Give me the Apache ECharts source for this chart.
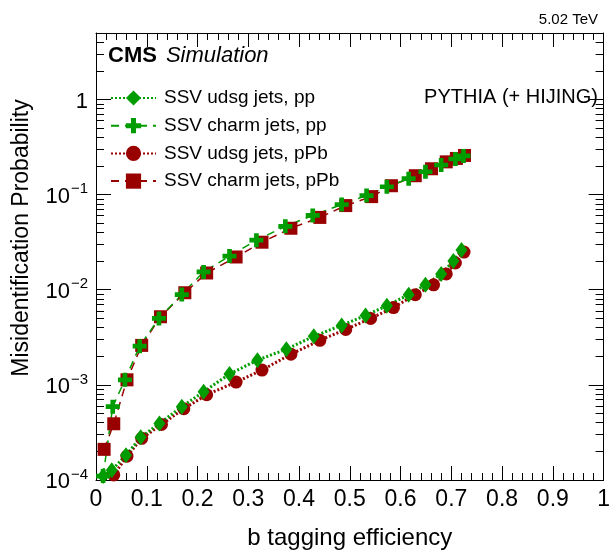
<!DOCTYPE html>
<html>
<head>
<meta charset="utf-8">
<script src="https://cdn.jsdelivr.net/npm/echarts@6/dist/echarts.min.js"></script>
<style>
html,body{margin:0;padding:0;background:#fff;}
#chart{width:613px;height:555px;}
</style>
</head>
<body>
<div id="chart"></div>
<script>
// ---- data ----
const udsgPPx   = [0.014,0.031,0.059,0.088,0.125,0.169,0.212,0.263,0.318,0.375,0.429,0.484,0.531,0.573,0.616,0.649,0.680,0.704,0.720];
const udsgPPy   = [1.10e-4,1.27e-4,1.82e-4,2.81e-4,3.93e-4,5.9e-4,8.46e-4,1.30e-3,1.82e-3,2.37e-3,3.24e-3,4.22e-3,5.36e-3,6.8e-3,8.87e-3,1.127e-2,1.468e-2,2.005e-2,2.61e-2];
const charmPPx  = [0.014,0.033,0.057,0.086,0.124,0.169,0.212,0.263,0.316,0.373,0.427,0.484,0.533,0.573,0.616,0.649,0.680,0.708,0.724];
const charmPPy  = [1.10e-4,5.9e-4,1.13e-3,2.55e-3,5.0e-3,8.9e-3,1.54e-2,2.26e-2,3.32e-2,4.64e-2,6.04e-2,7.87e-2,9.77e-2,0.121,0.147,0.174,0.205,0.237,0.255];
const udsgPbx   = [0.035,0.061,0.090,0.129,0.173,0.218,0.276,0.327,0.384,0.441,0.492,0.541,0.586,0.629,0.665,0.690,0.708,0.725];
const udsgPby   = [1.13e-4,1.78e-4,2.74e-4,3.83e-4,5.62e-4,7.87e-4,1.07e-3,1.43e-3,2.10e-3,2.94e-3,3.83e-3,4.99e-3,6.49e-3,8.87e-3,1.127e-2,1.468e-2,1.91e-2,2.49e-2];
const charmPbx  = [0.016,0.035,0.061,0.090,0.127,0.175,0.218,0.276,0.327,0.384,0.441,0.492,0.543,0.582,0.629,0.661,0.690,0.710,0.726];
const charmPby  = [2.1e-4,3.9e-4,1.13e-3,2.6e-3,5.2e-3,9.3e-3,1.50e-2,2.21e-2,3.16e-2,4.43e-2,5.76e-2,7.67e-2,9.53e-2,0.124,0.158,0.187,0.221,0.240,0.258];
const seriesNames = ['SSV udsg jets, pp','SSV charm jets, pp','SSV udsg jets, pPb','SSV charm jets, pPb'];
const yMajorTicks = [1e-4,1e-3,1e-2,1e-1,1];
const yMin = 1e-4, yMax = 5;

// tick positions in log10 space for the frame decoration axes
const logMin = Math.log10(yMin), logMax = Math.log10(yMax);
const yMinorLog = [];
for (let d=-4; d<=0; d++) for (let k=2; k<=9; k++) { const v=k*Math.pow(10,d); if (v<yMax) yMinorLog.push(Math.log10(v)); }

const GREEN = '#009c00', RED = '#990000';
const FONT = '"Liberation Sans", Arial, Helvetica, sans-serif';
const pairs = (xs, ys) => xs.map((x,i)=>[x, ys[i]]);
const CROSS = 'path://M4,0H8V4H12V8H8V12H4V8H0V4H4Z';

const yLabelFmt = v => {
  const e = Math.round(Math.log10(v));
  if (e === 0) return '{b|1}';
  return '{b|10}{s|\u2212' + (-e) + '}';
};

const decoY = (pos, major) => ({
  type:'value', min:logMin, max:logMax, position:pos, gridIndex:0,
  interval: major ? 1 : undefined,
  axisLine:{show: major, onZero:false, lineStyle:{color:'#000', width:1}},
  axisTick: major
    ? {show:true, inside:true, length:15, lineStyle:{color:'#000'}}
    : {show:true, inside:true, length:8, customValues:yMinorLog, lineStyle:{color:'#000'}},
  axisLabel:{show:false}, splitLine:{show:false}
});

const chart = echarts.init(document.getElementById('chart'), null, {renderer:'canvas'});
chart.setOption({
  animation:false,
  backgroundColor:'#fff',
  textStyle:{fontFamily:FONT},
  title:{text:'5.02 TeV', right:10, top:7, textStyle:{fontFamily:FONT, fontWeight:'normal', fontSize:15, color:'#000'}},
  grid:{left:96, right:7, top:33, bottom:70, containLabel:false},
  legend:{
    data:seriesNames, orient:'vertical', left:105, top:82,
    itemWidth:45, itemHeight:19, itemGap:5.7,
    textStyle:{fontFamily:FONT, fontSize:19, color:'#000', lineHeight:22, padding:[0,0,0,3]}
  },
  graphic:[
    {type:'text', left:108, top:45, style:{text:'{c|CMS}{s|Simulation}', rich:{
      c:{fontFamily:FONT, fontWeight:'bold', fontSize:22, fill:'#000'},
      s:{fontFamily:FONT, fontStyle:'italic', fontSize:22, fill:'#000', padding:[0,0,0,9]}}}},
    {type:'text', right:15, top:87, style:{text:'PYTHIA (+ HIJING)', fontFamily:FONT, fontSize:20, fill:'#000'}}
  ],
  xAxis:[
    {type:'value', min:0, max:1, interval:0.1, position:'bottom',
     name:'b tagging efficiency', nameLocation:'middle', nameGap:46,
     nameTextStyle:{fontFamily:FONT, fontSize:24, color:'#000'},
     axisLine:{onZero:false, lineStyle:{color:'#000', width:1}},
     axisTick:{inside:true, length:14, lineStyle:{color:'#000'}},
     minorTick:{show:true, splitNumber:5, length:7, lineStyle:{color:'#000'}},
     axisLabel:{fontFamily:FONT, fontSize:23, color:'#000', margin:8, formatter:v=>String(Math.round(v*10)/10)},
     splitLine:{show:false}},
    {type:'value', min:0, max:1, interval:0.1, position:'top',
     axisLine:{onZero:false, lineStyle:{color:'#000', width:1}},
     axisTick:{inside:true, length:14, lineStyle:{color:'#000'}},
     minorTick:{show:true, splitNumber:5, length:7, lineStyle:{color:'#000'}},
     axisLabel:{show:false}, splitLine:{show:false}}
  ],
  yAxis:[
    {type:'log', logBase:10, min:yMin, max:yMax, position:'left', gridIndex:0,
      name:'Misidentification Probability', nameLocation:'middle', nameGap:63,
      nameTextStyle:{fontFamily:FONT, fontSize:23, color:'#000', padding:[0,0,0,37]},
      axisLine:{show:false, onZero:false},
      axisTick:{show:false},
      splitLine:{show:false},
      axisLabel:{show:true, customValues:yMajorTicks, formatter:yLabelFmt, margin:8, color:'#000',
        rich:{b:{fontFamily:FONT, fontSize:22, color:'#000', lineHeight:26, verticalAlign:'bottom'},
              s:{fontFamily:FONT, fontSize:15, color:'#000', lineHeight:26, verticalAlign:'top', padding:[0,0,12,1]}}}},
    decoY('left', true),
    decoY('left', false),
    decoY('right', true),
    decoY('right', false)
  ],
  series:[
    {name:seriesNames[2], type:'line', data:pairs(udsgPbx, udsgPby), symbol:'circle', symbolSize:13,
     itemStyle:{color:RED}, lineStyle:{color:RED, width:3, type:[2,2]}},
    {name:seriesNames[3], type:'line', data:pairs(charmPbx, charmPby), symbol:'rect', symbolSize:13,
     itemStyle:{color:RED}, lineStyle:{color:RED, width:1.5, type:[8,6]}},
    {name:seriesNames[0], type:'line', data:pairs(udsgPPx, udsgPPy), symbol:'diamond', symbolSize:[12,16],
     itemStyle:{color:GREEN}, lineStyle:{color:GREEN, width:3, type:[2,2]}},
    {name:seriesNames[1], type:'line', data:pairs(charmPPx, charmPPy), symbol:CROSS, symbolSize:14,
     itemStyle:{color:GREEN}, lineStyle:{color:GREEN, width:1.5, type:[8,6]}}
  ]
});
</script>
</body>
</html>
